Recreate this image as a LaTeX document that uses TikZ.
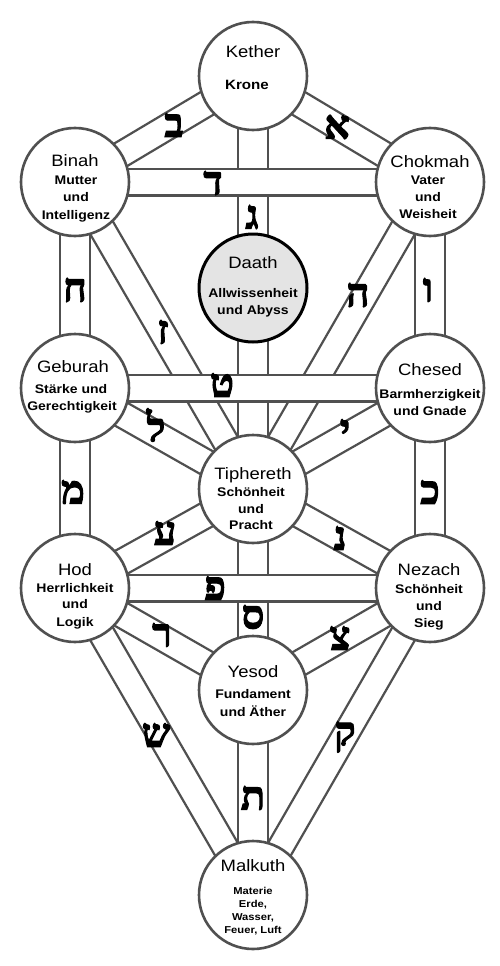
\documentclass[tikz,border=0pt]{standalone}
\usepackage{fontspec}
\setmainfont{Liberation Sans}[FakeStretch=1.12]
\newfontfamily\hebfont[Script=Hebrew,FakeBold=2.5]{Liberation Serif}
\usetikzlibrary{calc,backgrounds}
\definecolor{sefgray}{HTML}{505050}
\definecolor{bandgray}{HTML}{505050}
\definecolor{daathfill}{HTML}{E4E4E4}
\tikzset{
 sef/.style={circle, draw=sefgray, line width=2.6pt, fill=white, minimum size=108pt, inner sep=0pt},
 daathsef/.style={sef, draw=black, line width=3pt, fill=daathfill},
 ttl/.style={font=\fontsize{16.5}{18}\selectfont, text height=11.8pt, text depth=0pt, inner sep=0pt},
 sub/.style={font=\bfseries\fontsize{12.5}{14}\selectfont, text height=9pt, text depth=0pt, inner sep=0pt},
 subsmall/.style={font=\bfseries\fontsize{10}{12}\selectfont, text height=7.2pt, text depth=0pt, inner sep=0pt},
 heb/.style={font=\hebfont\bfseries\fontsize{40}{40}\selectfont, inner sep=0pt},
 bandline/.style={draw=bandgray, line width=2.2pt},
 hband/.style={draw=bandgray, line width=2.2pt, double=white, double distance=24.6pt},
}
\newcommand\sefpath[3]{%
 \draw[bandline] ($(#2.center)!#1!90:(#3.center)$) -- ($(#3.center)!#1!-90:(#2.center)$);
 \draw[bandline] ($(#2.center)!#1!-90:(#3.center)$) -- ($(#3.center)!#1!90:(#2.center)$);
}
\begin{document}
\begin{tikzpicture}[x=1pt,y=-1pt]
\useasboundingbox (0,0) rectangle (500,966);
% sefirot
\node[sef] (kether) at (253,76) {};
\node[sef] (binah) at (75,182) {};
\node[sef] (chokmah) at (430,182) {};
\node[daathsef] (daath) at (253,288) {};
\node[sef] (geburah) at (75,388) {};
\node[sef] (chesed) at (430,388) {};
\node[sef] (tiph) at (253,489) {};
\node[sef] (hod) at (75,588) {};
\node[sef] (nezach) at (430,588) {};
\node[sef] (yesod) at (253,690) {};
\node[sef] (malkuth) at (253,895) {};
% paths
\begin{scope}[on background layer]
 \sefpath{13pt}{kether}{binah}
 \sefpath{13pt}{kether}{chokmah}
 \sefpath{15pt}{kether}{tiph}
 \sefpath{13pt}{binah}{tiph}
 \sefpath{13pt}{chokmah}{tiph}
 \sefpath{15pt}{binah}{geburah}
 \sefpath{15pt}{chokmah}{chesed}
 \sefpath{13pt}{geburah}{tiph}
 \sefpath{13pt}{chesed}{tiph}
 \sefpath{15pt}{geburah}{hod}
 \sefpath{15pt}{chesed}{nezach}
 \sefpath{13pt}{tiph}{hod}
 \sefpath{13pt}{tiph}{nezach}
 \sefpath{15pt}{tiph}{yesod}
 \sefpath{13pt}{hod}{yesod}
 \sefpath{13pt}{nezach}{yesod}
 \sefpath{13pt}{hod}{malkuth}
 \sefpath{13pt}{nezach}{malkuth}
 \sefpath{15pt}{yesod}{malkuth}
 \draw[hband] (binah.center) -- (chokmah.center);
 \draw[hband] (geburah.center) -- (chesed.center);
 \draw[hband] (hod.center) -- (nezach.center);
\end{scope}
% texts
\node[ttl] (t1) at (253,52) {Kether};
\node[sub, font=\bfseries\fontsize{13.5}{15}\selectfont] (s1) at (247,85) {Krone};
\node[ttl] (t2) at (75,161) {Binah};
\node[sub] (s2a) at (76,180) {Mutter};
\node[sub] (s2b) at (76,197) {und};
\node[sub] (s2c) at (76,215) {Intelligenz};
\node[ttl] (t3) at (430,162) {Chokmah};
\node[sub] (s3a) at (428,180) {Vater};
\node[sub] (s3b) at (428,197) {und};
\node[sub] (s3c) at (428,214) {Weisheit};
\node[ttl] (t4) at (253,263) {Daath};
\node[sub] (s4a) at (253,293) {Allwissenheit};
\node[sub] (s4b) at (253,310) {und Abyss};
\node[ttl] (t5) at (73,367) {Geburah};
\node[sub] (s5a) at (71,389) {Stärke und};
\node[sub] (s5b) at (72,406) {Gerechtigkeit};
\node[ttl] (t6) at (430,370) {Chesed};
\node[sub] (s6a) at (430,394) {Barmherzigkeit};
\node[sub] (s6b) at (430,411) {und Gnade};
\node[ttl] (t7) at (253,474) {Tiphereth};
\node[sub] (s7a) at (251,492) {Schönheit};
\node[sub] (s7b) at (251,509) {und};
\node[sub] (s7c) at (251,525) {Pracht};
\node[ttl] (t8) at (75,570) {Hod};
\node[sub] (s8a) at (75,588) {Herrlichkeit};
\node[sub] (s8b) at (75,604) {und};
\node[sub] (s8c) at (75,622) {Logik};
\node[ttl] (t9) at (429,570) {Nezach};
\node[sub] (s9a) at (429,589) {Schönheit};
\node[sub] (s9b) at (429,606) {und};
\node[sub] (s9c) at (429,623) {Sieg};
\node[ttl] (t10) at (253,672) {Yesod};
\node[sub] (s10a) at (253,694) {Fundament};
\node[sub] (s10b) at (253,712) {und Äther};
\node[ttl] (t11) at (253,866) {Malkuth};
\node[subsmall] (s11a) at (253,891) {Materie};
\node[subsmall] (s11b) at (253,904) {Erde,};
\node[subsmall] (s11c) at (253,917) {Wasser,};
\node[subsmall] (s11d) at (253,930) {Feuer, Luft};
% hebrew letters
\node[heb] (h01) at (337,127) {א};
\node[heb] (h02) at (174,125) {ב};
\node[heb] (h03) at (252,217) {ג};
\node[heb] (h04) at (213,183) {ד};
\node[heb] (h05) at (358,295) {ה};
\node[heb] (h06) at (428,290) {ו};
\node[heb] (h07) at (163,332) {ז};
\node[heb] (h08) at (75,290) {ח};
\node[heb] (h09) at (222,385) {ט};
\node[heb] (h10) at (345,431) {י};
\node[heb] (h11) at (430,492) {כ};
\node[heb] (h12) at (156,425) {ל};
\node[heb] (h13) at (73,492) {מ};
\node[heb] (h14) at (340,538) {נ};
\node[heb] (h15) at (253,617) {ס};
\node[heb] (h16) at (165,533) {ע};
\node[heb] (h17) at (215,588) {פ};
\node[heb] (h18) at (340,638) {צ};
\node[heb] (h19) at (345,737) {ק};
\node[heb] (h20) at (162,635) {ר};
\node[heb] (h21) at (156,735) {ש};
\node[heb] (h22) at (253,798) {ת};
\end{tikzpicture}
\end{document}
